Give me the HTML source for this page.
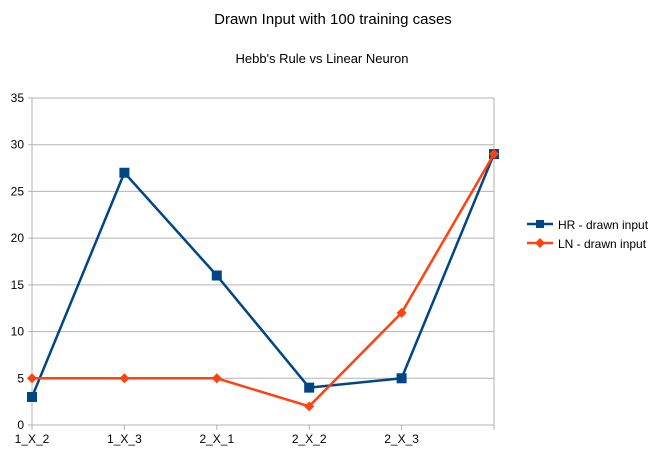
<!DOCTYPE html>
<html><head><meta charset="utf-8"><style>
body{margin:0;background:#fff;}
svg{display:block;font-family:"Liberation Sans",sans-serif;}
</style></head><body>
<svg id="c" width="666" height="461">
<text x="333" y="24" text-anchor="middle" font-size="15">Drawn Input with 100 training cases</text>
<text x="322" y="63" text-anchor="middle" font-size="13">Hebb's Rule vs Linear Neuron</text>
<g id="grid"></g><g id="series"></g>
<g>
<line x1="527" y1="224" x2="553" y2="224" stroke="#004586" stroke-width="2.5"/>
<rect x="536" y="220" width="8" height="8" fill="#004586"/>
<text x="558" y="229" font-size="12">HR - drawn input</text>
<line x1="527" y1="243" x2="553" y2="243" stroke="#ff420e" stroke-width="2.5"/>
<polygon points="540,238 545,243 540,248 535,243" fill="#ff420e"/>
<text x="558" y="248" font-size="12">LN - drawn input</text>
</g>
</svg>
<script>
const categories=["1_X_2","1_X_3","2_X_1","2_X_2","2_X_3",""];
const hrValues=[3,27,16,4,5,29];
const lnValues=[5,5,5,2,12,29];
const yTicks=[0,5,10,15,20,25,30,35];
const NS="http://www.w3.org/2000/svg";
const x0=32,x1=494,y0=425,y1=98,yMax=35;
const xs=i=>x0+i*(x1-x0)/(categories.length-1);
const ys=v=>y0-v*(y0-y1)/yMax;
function mk(t,a,p){const e=document.createElementNS(NS,t);for(const k in a)e.setAttribute(k,a[k]);p.appendChild(e);return e;}
const g=document.getElementById('grid'),s=document.getElementById('series');
yTicks.forEach(v=>{
 const l=mk('line',{x1:x0-4,x2:x1,y1:ys(v),y2:ys(v),stroke:'#b3b3b3','stroke-width':1},g);
 
 
 const t=mk('text',{x:x0-8,y:ys(v)+4,'text-anchor':'end','font-size':12},g);t.textContent=v;
 
 
});
mk('line',{x1:x0,x2:x0,y1:y1,y2:y0+4,stroke:'#b3b3b3'},g);
mk('line',{x1:x1,x2:x1,y1:y1,y2:y0+4,stroke:'#b3b3b3'},g);
categories.forEach((c,i)=>{
 mk('line',{x1:xs(i),x2:xs(i),y1:y0,y2:y0+5,stroke:'#b3b3b3'},g);
 const t=mk('text',{x:xs(i),y:y0+18,'text-anchor':'middle','font-size':12},g);t.textContent=c;
 
 
});
function series(vals,col,name,shape){
 const p=mk('polyline',{points:vals.map((v,i)=>xs(i)+','+ys(v)).join(' '),fill:'none',stroke:col,'stroke-width':2.5,'stroke-linejoin':'round'},s);
 
 
 vals.forEach((v,i)=>{
  const x=xs(i),y=ys(v);let m;
  if(shape==='sq')m=mk('rect',{x:x-5,y:y-5,width:10,height:10,fill:col},s);
  else m=mk('polygon',{points:`${x},${y-5} ${x+5},${y} ${x},${y+5} ${x-5},${y}`,fill:col},s);
  
  
 });
}
series(hrValues,'#004586','hr','sq');
series(lnValues,'#ff420e','ln','dia');
</script>
</body></html>
